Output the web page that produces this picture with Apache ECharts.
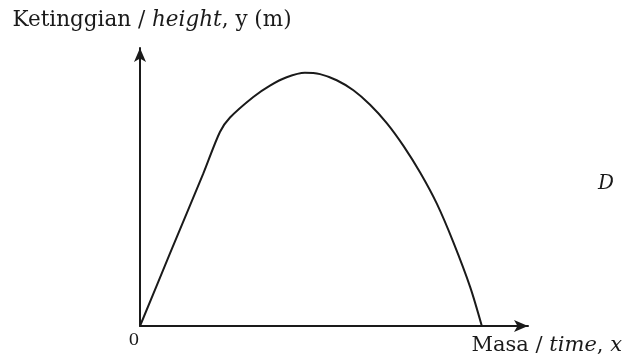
<!DOCTYPE html>
<html>
<head>
<meta charset="utf-8">
<script src="https://cdn.jsdelivr.net/npm/echarts@6/dist/echarts.min.js"></script>
<style>
  html, body { margin: 0; padding: 0; background: #fff; }
  #chart { width: 624px; height: 362px; }
</style>
</head>
<body>
<div id="chart"></div>
<script>
// curve (arbitrary units, axes have no scale)
const timeX = [0, 0.77, 1.63, 2.06, 2.32, 2.92, 3.35, 3.78, 4.25, 4.64, 5.07, 5.5, 5.93, 6.36, 6.79, 7.22, 7.65, 8.08, 8.51, 8.81];
const heightY = [0, 2.6, 5.48, 6.98, 7.5, 8.24, 8.65, 8.95, 9.11, 9.06, 8.84, 8.48, 7.96, 7.3, 6.48, 5.52, 4.4, 3.0, 1.4, 0];

const serif = "'DejaVu Serif', 'Liberation Serif', serif";
const ink = '#1a1a1a';

let chart = echarts.init(document.getElementById('chart'));
let options = {
  animation: false,
  grid: {left: 140, right: 96, top: 48, bottom: 36},
  xAxis: {
    type: 'value', min: 0, max: 10,
    axisLine: {onZero: false, symbol: ['none', 'arrow'], symbolSize: [9, 14], lineStyle: {color: ink, width: 2}},
    axisTick: {show: false},
    splitLine: {show: false},
    axisLabel: {
      showMinLabel: true, showMaxLabel: false,
      formatter: v => v === 0 ? '0' : '',
      color: ink, fontFamily: serif, fontSize: 17, margin: 6, padding: [0, 12, 0, 0]
    }
  },
  yAxis: {
    type: 'value', min: 0, max: 10,
    name: '{a|Ketinggian / }{b|height}{a|, y (m)}',
    nameLocation: 'end', nameGap: 17,
    nameTextStyle: {
      padding: [0, 0, 0, 24],
      rich: {
        a: {fontFamily: serif, fontSize: 21.5, color: ink},
        b: {fontFamily: serif, fontSize: 21.5, fontStyle: 'italic', color: ink}
      }
    },
    axisLine: {show: true, symbol: ['none', 'arrow'], symbolSize: [9, 14], lineStyle: {color: ink, width: 2}},
    axisTick: {show: false},
    splitLine: {show: false},
    axisLabel: {show: false}
  },
  graphic: [
    {
      type: 'text', right: 2, top: 335,
      style: {
        text: '{a|Masa / }{b|time}{a|, }{b|x}',
        rich: {
          a: {fontFamily: serif, fontSize: 21, fill: ink},
          b: {fontFamily: serif, fontSize: 21, fontStyle: 'italic', fill: ink}
        }
      }
    },
    {
      type: 'text', left: 598, top: 174,
      style: {text: 'D', font: 'italic 20px ' + serif, fill: ink}
    }
  ],
  series: [{
    type: 'line',
    data: timeX.map((x, i) => [x, heightY[i]]),
    smooth: 0.3,
    showSymbol: false,
    lineStyle: {color: ink, width: 2}
  }]
};
chart.setOption(options);
</script>
</body>
</html>
